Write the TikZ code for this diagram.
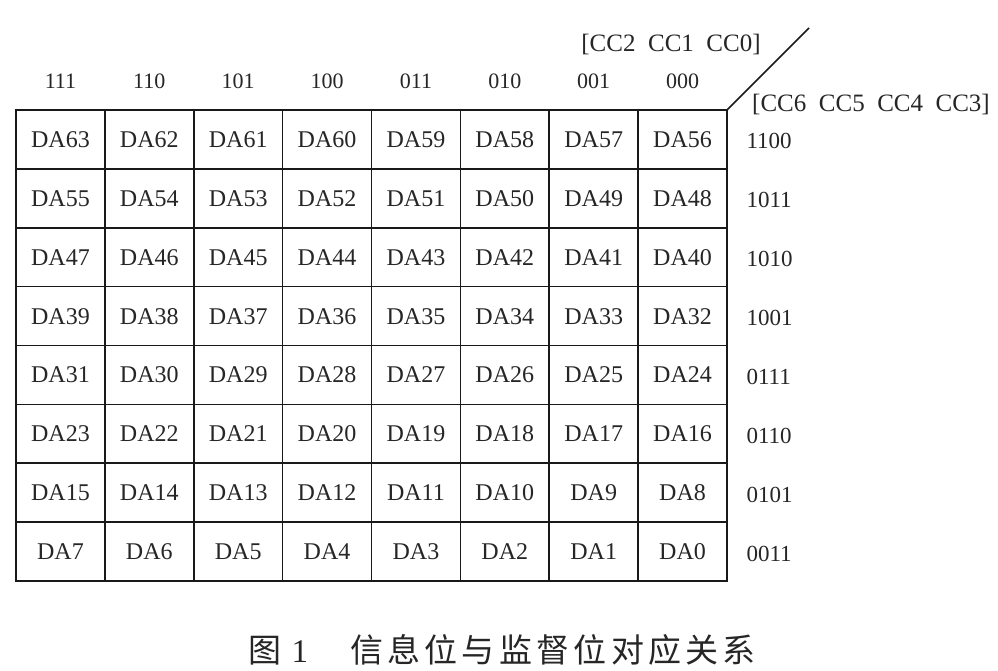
\documentclass[tikz,border=0pt]{standalone}
\usepackage{fontspec}
\setmainfont{Liberation Serif}
\newfontfamily\cjk[LetterSpace=13]{Noto Sans CJK SC}
\begin{document}
\begin{tikzpicture}[x=1pt,y=-1pt,
  cellbox/.style={draw=black!90,line width=1.7pt,minimum width=88.875pt,minimum height=58.875pt,inner sep=0pt,outer sep=0pt,text height=16pt,text depth=0pt,font=\fontsize{24}{26}\selectfont,text=black!85},
  colhead/.style={anchor=base,font=\fontsize{22}{24}\selectfont,text=black!85},
  rowhead/.style={anchor=base west,font=\fontsize{23}{25}\selectfont,text=black!85},
  axislabel/.style={anchor=base,font=\fontsize{25}{27}\selectfont,text=black!85},
  caption/.style={anchor=base west,font=\fontsize{33}{36}\selectfont,text=black!85}]
\useasboundingbox (0,0) rectangle (998,671);
\fill[white] (0,0) rectangle (998,671);
% cells
\foreach \r in {0,...,7}{
  \foreach \c in {0,...,7}{
    \pgfmathtruncatemacro{\n}{63-8*\r-\c}
    \node[cellbox] (cell\r-\c) at ({16+88.875*(\c+0.5)},{110+58.875*(\r+0.5)}) {DA\n};
  }
}
% column headers
\foreach \lab [count=\i from 0] in {111,110,101,100,011,010,001,000}{
  \node[colhead] (col\i) at ({16+88.875*(\i+0.5)},89) {\lab};
}
% row headers
\foreach \lab [count=\i from 0] in {1100,1011,1010,1001,0111,0110,0101,0011}{
  \node[rowhead] (row\i) at (743,{110+58.875*(\i+0.5)+9.5}) {\lab};
}
% diagonal and axis labels
\coordinate (diagEnd) at (809,28);
\draw[line width=1.7pt,black!90] (cell0-7.north east) -- (diagEnd);
\node[axislabel] (colaxis) at (671,52) {[CC2~~CC1~~CC0]};
\node[axislabel] (rowaxis) at (871,112) {[CC6~~CC5~~CC4~~CC3]};
% caption
\node[caption] (cap) at (245,662) {{\cjk 图}\hspace{10pt}1\hspace{42pt}{\cjk 信息位与监督位对应关系}};
\end{tikzpicture}
\end{document}
